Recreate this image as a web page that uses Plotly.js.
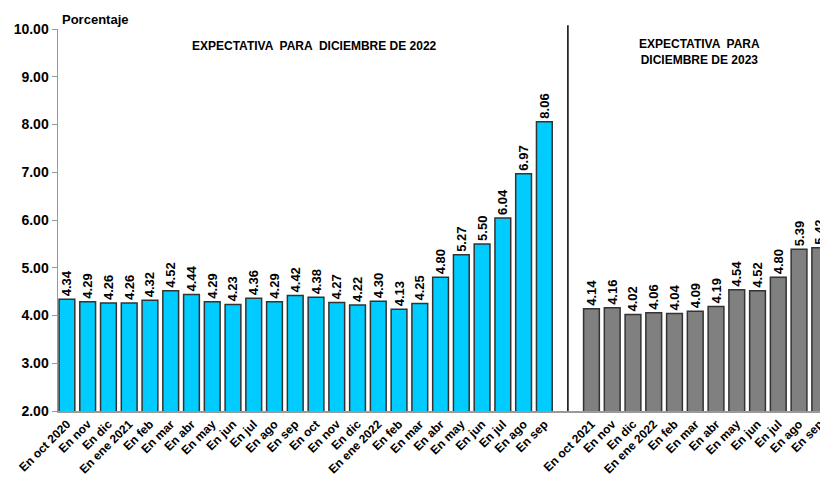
<!DOCTYPE html>
<html>
<head>
<meta charset="utf-8">
<script src="https://cdn.plot.ly/plotly-3.0.1.min.js"></script>
<style>html,body{margin:0;padding:0;background:#fff;}#chart{width:820px;height:479px;}</style>
</head>
<body>
<div id="chart"></div>
<script>
var labels2022 = ["En oct 2020","En nov","En dic","En ene 2021","En feb","En mar","En abr","En may","En jun","En jul","En ago","En sep","En oct","En nov","En dic","En ene 2022","En feb","En mar","En abr","En may","En jun","En jul","En ago","En sep"];
var values2022 = [4.34,4.29,4.26,4.26,4.32,4.52,4.44,4.29,4.23,4.36,4.29,4.42,4.38,4.27,4.22,4.30,4.13,4.25,4.80,5.27,5.50,6.04,6.97,8.06];
var labels2023 = ["En oct 2021","En nov","En dic","En ene 2022","En feb","En mar","En abr","En may","En jun","En jul","En ago","En sep"];
var values2023 = [4.14,4.16,4.02,4.06,4.04,4.09,4.19,4.54,4.52,4.80,5.39,5.42];

var groupGap = 2.27;
var x1 = labels2022.map(function(_, i){ return i; });
var start2 = labels2022.length - 1 + groupGap;
var x2 = labels2023.map(function(_, i){ return start2 + i; });
var sepX = (labels2022.length - 1 + start2) / 2;

var FONT = "Liberation Sans, Arial, sans-serif";
var fmt = function(v){ return v.toFixed(2); };

var common = {
  type: 'bar',
  width: 0.76,
  textposition: 'outside',
  textangle: -90,
  constraintext: 'none',
  cliponaxis: false,
  textfont: {family: FONT, size: 13, color: '#000', weight: 'bold'},
  hoverinfo: 'none'
};

var t1 = Object.assign({}, common, {
  x: x1, y: values2022, text: values2022.map(fmt),
  marker: {color: '#00CCFF', line: {color: '#333333', width: 1.5}}
});
var t2 = Object.assign({}, common, {
  x: x2, y: values2023, text: values2023.map(fmt),
  marker: {color: '#808080', line: {color: '#333333', width: 1.5}}
});

var layout = {
  width: 820, height: 479,
  margin: {l: 58, r: 0, t: 29, b: 68},
  paper_bgcolor: '#fff', plot_bgcolor: '#fff',
  showlegend: false,
  font: {family: FONT, color: '#000'},
  xaxis: {
    range: [-0.43, start2 + labels2023.length - 1 + 0.01],
    tickvals: x1.concat(x2),
    ticktext: labels2022.concat(labels2023),
    tickangle: -45,
    ticklabeloverflow: 'allow',
    tickfont: {family: FONT, size: 12, color: '#000', weight: 'bold'},
    showgrid: false, zeroline: false,
    showline: true, linecolor: '#999', linewidth: 1.5,
    ticks: '', fixedrange: true
  },
  yaxis: {
    range: [2, 10],
    tickvals: [2,3,4,5,6,7,8,9,10],
    tickformat: '.2f',
    tickfont: {family: FONT, size: 14, color: '#000', weight: 'bold'},
    showgrid: false, zeroline: false,
    showline: true, linecolor: '#999', linewidth: 1.5,
    ticks: 'outside', ticklen: 5, tickcolor: '#999',
    fixedrange: true
  },
  shapes: [{
    type: 'line', xref: 'x', yref: 'paper',
    x0: sepX, x1: sepX, y0: 0, y1: 1.01,
    line: {color: '#000', width: 1.5}
  }],
  annotations: [
    {xref: 'paper', yref: 'paper', x: 0.003, y: 1.026, xanchor: 'left', yanchor: 'middle',
     text: 'Porcentaje', showarrow: false, font: {family: FONT, size: 13, color: '#000', weight: 'bold'}},
    {xref: 'x', yref: 'paper', x: 11.95, y: 0.955, xanchor: 'center', yanchor: 'middle',
     text: 'EXPECTATIVA  PARA  DICIEMBRE DE 2022', showarrow: false,
     font: {family: FONT, size: 12, color: '#000', weight: 'bold'}},
    {xref: 'x', yref: 'paper', x: start2 + 5.2, y: 0.94, xanchor: 'center', yanchor: 'middle',
     text: 'EXPECTATIVA  PARA<br>DICIEMBRE DE 2023', showarrow: false,
     font: {family: FONT, size: 12, color: '#000', weight: 'bold'}}
  ]
};

Plotly.newPlot('chart', [t1, t2], layout, {displayModeBar: false, staticPlot: true});
</script>
</body>
</html>
